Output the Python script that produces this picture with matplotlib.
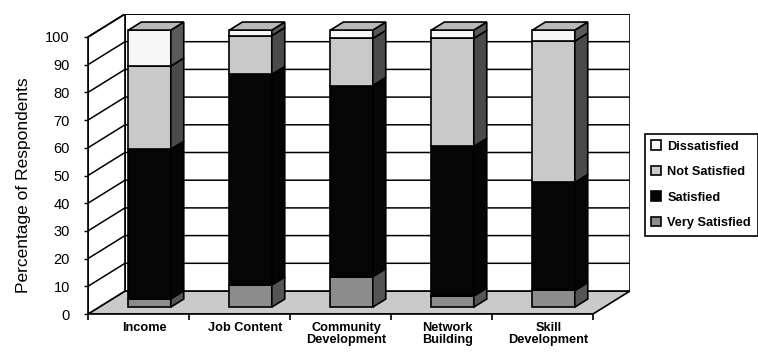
import matplotlib
matplotlib.use("Agg")
import matplotlib.pyplot as plt
from matplotlib.patches import Polygon, Patch
import numpy as np

categories = ["Income", "Job Content", "Community\nDevelopment", "Network\nBuilding", "Skill\nDevelopment"]
series_names = ["Very Satisfied", "Satisfied", "Not Satisfied", "Dissatisfied"]
very_satisfied = [3, 8, 11, 4, 6]
satisfied = [54, 76, 69, 54, 39]
not_satisfied = [30, 14, 17, 39, 51]
dissatisfied = [13, 2, 3, 3, 4]
yticks = [0, 10, 20, 30, 40, 50, 60, 70, 80, 90, 100]

series = [very_satisfied, satisfied, not_satisfied, dissatisfied]
front_cols = ["#8c8c8c", "#050505", "#c9c9c9", "#f7f7f7"]
side_cols = ["#555555", "#050505", "#4a4a4a", "#5a5a5a"]
top_col = "#b9b9b9"
floor_col = "#cacaca"

cond = ["Liberation Sans Narrow", "Liberation Sans", "DejaVu Sans"]
reg = ["Liberation Sans", "DejaVu Sans"]

W, H = 758, 354
fig = plt.figure(figsize=(W / 100, H / 100), dpi=100)
ax = fig.add_axes([88 / W, (H - 314) / H, (630 - 88) / W, (314 - 14) / H])

n = len(categories)
ddx = 37 / 101.0   # depth offset in category units
ddy = 23 / 2.77    # depth offset in percentage units
x0, x1 = -0.5, n - 0.5
ax.set_xlim(x0, x1 + ddx)
ax.set_ylim(0, 100 + ddy)

# floor
ax.add_patch(Polygon([(x0, 0), (x1, 0), (x1 + ddx, ddy), (x0 + ddx, ddy)],
                     closed=True, facecolor=floor_col, edgecolor="black", lw=1.2, zorder=1))
# back wall
ax.add_patch(Polygon([(x0 + ddx, ddy), (x1 + ddx, ddy), (x1 + ddx, 100 + ddy), (x0 + ddx, 100 + ddy)],
                     closed=True, facecolor="white", edgecolor="black", lw=1.2, zorder=1))
# left wall
ax.add_patch(Polygon([(x0, 0), (x0 + ddx, ddy), (x0 + ddx, 100 + ddy), (x0, 100)],
                     closed=True, facecolor="white", edgecolor="black", lw=1.2, zorder=1))
# gridlines
for v in yticks[1:]:
    ax.plot([x0, x0 + ddx, x1 + ddx], [v, v + ddy, v + ddy], color="black", lw=1.1, zorder=2)

# bars
bw = 0.42
d_front, d_back = 0.3, 0.65
for i in range(n):
    xc = i + d_front * ddx
    xl, xr = xc - bw / 2, xc + bw / 2
    sx = (d_back - d_front) * ddx
    sy = (d_back - d_front) * ddy
    base = 0.0
    for k, vals in enumerate(series):
        v = vals[i]
        yb = base + d_front * ddy
        ax.bar(xc, v, width=bw, bottom=yb, color=front_cols[k], edgecolor="black", lw=1.2, zorder=5)
        ax.add_patch(Polygon([(xr, yb), (xr + sx, yb + sy), (xr + sx, yb + v + sy), (xr, yb + v)],
                             closed=True, facecolor=side_cols[k], edgecolor="black", lw=1.2, zorder=5))
        base += v
    yt = base + d_front * ddy
    ax.add_patch(Polygon([(xl, yt), (xr, yt), (xr + sx, yt + sy), (xl + sx, yt + sy)],
                         closed=True, facecolor=top_col, edgecolor="black", lw=1.2, zorder=6))

# axes styling
for s in ["top", "right"]:
    ax.spines[s].set_visible(False)
ax.spines["left"].set_bounds(0, 100)
ax.spines["bottom"].set_bounds(x0, x1)
ax.spines["left"].set_linewidth(1.2)
ax.spines["bottom"].set_linewidth(1.2)
ax.set_yticks(yticks)
ax.set_yticklabels([str(t) for t in yticks], family=reg, fontsize=10.5)
ax.tick_params(axis="y", length=3, width=1, pad=10)
ax.set_xticks(np.arange(x0, x1 + 0.01, 1.0))
ax.set_xticklabels([])
ax.tick_params(axis="x", length=4, width=1.2, direction="out")
ax.set_xticks([i + 0.06 for i in range(n)], minor=True)
ax.set_xticklabels(categories, minor=True, family=cond, fontweight="bold", fontsize=9.2, linespacing=1.0)
ax.tick_params(axis="x", which="minor", length=0, pad=6)

fig.text(24 / W, (H - 185) / H, "Percentage of Respondents", rotation=90,
         ha="center", va="center", family=reg, fontsize=12.5)

# legend
handles = [Patch(facecolor=front_cols[k], edgecolor="black", lw=1.2) for k in [3, 2, 1, 0]]
labels = [series_names[k] for k in [3, 2, 1, 0]]
leg = fig.legend(handles, labels, loc="upper left", bbox_to_anchor=(645 / W, (H - 134) / H),
                 frameon=True, fancybox=False, edgecolor="black", framealpha=1,
                 prop={"family": cond, "weight": "bold", "size": 9.2},
                 handlelength=0.75, handleheight=0.75, handletextpad=0.5,
                 labelspacing=1.05, borderpad=0.5, borderaxespad=0)
leg.get_frame().set_linewidth(1.2)

fig.savefig("out.png", dpi=100)
